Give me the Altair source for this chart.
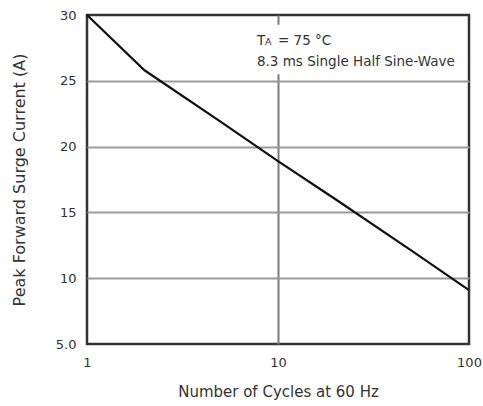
import altair as alt
import pandas as pd

# Surge current derating curve (log cycles vs peak current)
cycles = [1, 2, 5, 10, 20, 50, 100]
current = [30.0, 25.8, 21.9, 18.9, 16.0, 12.1, 9.1]

x_ticks = [1, 10, 100]
y_ticks = [5, 10, 15, 20, 25, 30]

note_line1 = "= 75 °C"
note_line2 = "8.3 ms Single Half Sine-Wave"

FONT = "DejaVu Sans"
TEXT = "#333333"

curve_df = pd.DataFrame({"cycles": cycles, "current": current})

x_scale = alt.Scale(type="log", domain=[1, 100], nice=False)
y_scale = alt.Scale(domain=[5, 30], nice=False, zero=False)

# grid lines on the frame edges are hidden so the dark border stays on top
x_axis = alt.Axis(
    values=x_ticks, format="d", title="Number of Cycles at 60 Hz",
    grid=True, gridColor="#7a7a7a", gridWidth=2,
    gridOpacity={"condition": {"test": "datum.value == 1 || datum.value == 100", "value": 0}, "value": 1},
    ticks=False, domain=False,
    labelFont=FONT, labelFontSize=13, labelColor=TEXT, labelPadding=12,
    titleFont=FONT, titleFontSize=15, titleFontWeight="normal", titleColor=TEXT,
    titleY=47, titleBaseline="middle",
    labelFlush=False,
)
y_axis = alt.Axis(
    values=y_ticks, title="Peak Forward Surge Current (A)",
    labelExpr="datum.value == 5 ? '5.0' : datum.label",
    grid=True, gridColor="#9a9a9a", gridWidth=2,
    gridOpacity={"condition": {"test": "datum.value == 5 || datum.value == 30", "value": 0}, "value": 1},
    ticks=False, domain=False,
    labelFont=FONT, labelFontSize=13, labelColor=TEXT, labelPadding=11,
    titleFont=FONT, titleFontSize=16, titleFontWeight="normal", titleColor=TEXT,
    titleX=-68, titleY=164.5, titleBaseline="middle", titleAngle=-90,
    labelFlush=False,
)

curve = alt.Chart(curve_df).mark_line(color="#111111", strokeWidth=2.2).encode(
    x=alt.X("cycles:Q", scale=x_scale, axis=x_axis),
    y=alt.Y("current:Q", scale=y_scale, axis=y_axis),
)

# white backing behind the condition note
box_df = pd.DataFrame({"x": [7.4], "x2": [92.0], "y": [25.5], "y2": [29.25]})
box = alt.Chart(box_df).mark_rect(color="white").encode(
    x=alt.X("x:Q", scale=x_scale), x2="x2:Q",
    y=alt.Y("y:Q", scale=y_scale), y2="y2:Q",
)

note_df = pd.DataFrame({"x": [7.76], "y1": [27.72], "y2": [26.12]})
base = alt.Chart(note_df)
t_main = base.mark_text(align="left", baseline="alphabetic", font=FONT,
                        fontSize=13.5, color=TEXT).encode(
    x=alt.X("x:Q", scale=x_scale), y=alt.Y("y1:Q", scale=y_scale),
    text=alt.value("T"))
t_sub = base.mark_text(align="left", baseline="alphabetic", font=FONT,
                       fontSize=9.5, color=TEXT, dx=8).encode(
    x=alt.X("x:Q", scale=x_scale), y=alt.Y("y1:Q", scale=y_scale),
    text=alt.value("A"))
t_rest = base.mark_text(align="left", baseline="alphabetic", font=FONT,
                        fontSize=13.5, color=TEXT, dx=21).encode(
    x=alt.X("x:Q", scale=x_scale), y=alt.Y("y1:Q", scale=y_scale),
    text=alt.value(note_line1))
t_line2 = base.mark_text(align="left", baseline="alphabetic", font=FONT,
                         fontSize=13.5, color=TEXT).encode(
    x=alt.X("x:Q", scale=x_scale), y=alt.Y("y2:Q", scale=y_scale),
    text=alt.value(note_line2))

chart = alt.layer(box, curve, t_main, t_sub, t_rest, t_line2).properties(
    width=382, height=329,
    autosize=alt.AutoSizeParams(type="none"),
    padding={"left": 87, "top": 15, "right": 14, "bottom": 62},
    background="white",
).configure_view(stroke="#333333", strokeWidth=2.5)

chart.save("out.html", embed_options={"renderer": "svg", "actions": False})
